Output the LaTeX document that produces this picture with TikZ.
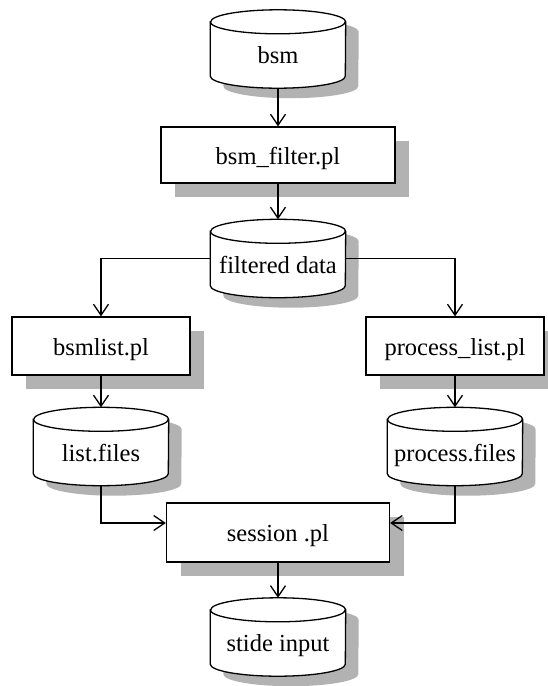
\documentclass[tikz,border=0pt]{standalone}
\usepackage{fontspec}
\setmainfont{LiberationSerif}[Extension=.ttf, UprightFont=*-Regular]
\usetikzlibrary{arrows.meta,shadows,calc}
\pgfdeclarelayer{bg}
\pgfsetlayers{bg,main}

\tikzset{
  x=1pt, y=1pt,
  outline/.style={line width=1.3pt, draw=black},
  dropcolor/.style={fill=black!30},
  procbox/.style={outline, fill=white, rectangle, inner sep=0pt,
    text height=18pt, text depth=0pt,
    general shadow={dropcolor, shadow xshift=14pt, shadow yshift=-14pt}},
  store/.style={rectangle, inner sep=0pt, minimum width=135pt, minimum height=78pt,
    text height=29pt, text depth=0pt},
  flow/.style={outline, -{Straight Barb[length=11pt,width=15pt,line width=1.3pt]}},
}

% cylinder (data store) drawn round a store node, with its shadow
\newcommand\dbshape[1]{%
  \begin{pgfonlayer}{bg}
    \fill[dropcolor] ([shift={(13pt,-22pt)}]#1.north west) -- ([shift={(13pt,2pt)}]#1.south west)
      arc[start angle=180, end angle=360, x radius=67.5pt, y radius=12pt]
      -- ([shift={(13pt,-22pt)}]#1.north east)
      arc[start angle=0, end angle=180, x radius=67.5pt, y radius=12pt] -- cycle;
    \filldraw[outline, fill=white] ([yshift=-12pt]#1.north west) -- ([yshift=12pt]#1.south west)
      arc[start angle=180, end angle=360, x radius=67.5pt, y radius=12pt]
      -- ([yshift=-12pt]#1.north east)
      arc[start angle=0, end angle=180, x radius=67.5pt, y radius=12pt] -- cycle;
    \draw[outline] ([yshift=-12pt]#1.north west)
      arc[start angle=180, end angle=360, x radius=67.5pt, y radius=12pt];
  \end{pgfonlayer}}

\begin{document}
\begin{tikzpicture}[font=\fontsize{24.5}{29}\selectfont]
\useasboundingbox (0,0) rectangle (548,-686);

% data stores
\node[store] (bsm)    at (278,-49)    {bsm};
\node[store] (fdata)  at (278,-258.5) {filtered data};
\node[store] (lfiles) at (101,-446.5) {list.files};
\node[store] (pfiles) at (455,-446.5) {process.files};
\node[store] (stide)  at (278,-637)   {stide input};
\foreach \n in {bsm,fdata,lfiles,pfiles,stide} {\dbshape{\n}}

% scripts
\node[procbox, minimum width=234pt, minimum height=56pt] (filter)  at (278,-155)   {bsm\_filter.pl};
\node[procbox, minimum width=178pt, minimum height=58pt] (bsmlist) at (101,-346)   {bsmlist.pl};
\node[procbox, minimum width=178pt, minimum height=58pt] (plist)   at (455,-346)   {process\_list.pl};
\node[procbox, minimum width=223pt, minimum height=59pt] (session) at (278,-532.5) {session .pl};

% data flow
\draw[flow] (bsm.south) -- (filter.north);
\draw[flow] (filter.south) -- (fdata.north);
\draw[flow] (fdata.west) -| (bsmlist.north);
\draw[flow] (fdata.east) -| (plist.north);
\draw[flow] (bsmlist.south) -- (lfiles.north);
\draw[flow] (plist.south) -- (pfiles.north);
\draw[flow] (lfiles.south) |- ([yshift=9.5pt]session.west);
\draw[flow] (pfiles.south) |- ([yshift=9.5pt]session.east);
\draw[flow] (session.south) -- (stide.north);
\end{tikzpicture}
\end{document}
